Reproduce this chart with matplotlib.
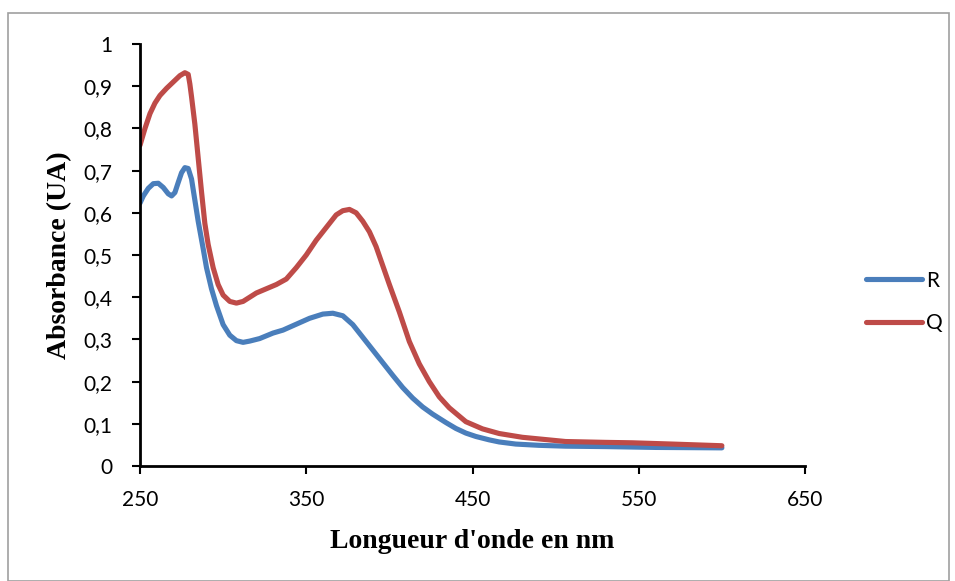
import matplotlib
matplotlib.use("Agg")
from matplotlib import pyplot as plt
from matplotlib.patches import Rectangle

# absorbance spectra
r_nm = [250, 252, 255, 258, 261, 264, 267, 269, 271, 273, 275, 277, 279, 281, 283,
        285, 288, 290, 293, 296, 300, 304, 308, 312, 316, 322, 330, 336, 344, 352,
        360, 366, 372, 378, 384, 390, 396, 402, 408, 414, 420, 426, 434, 440, 446,
        452, 460, 466, 476, 490, 506, 530, 560, 600]
r_abs = [0.623, 0.640, 0.658, 0.669, 0.670, 0.660, 0.645, 0.640, 0.648, 0.672, 0.695,
         0.707, 0.705, 0.680, 0.630, 0.580, 0.515, 0.470, 0.420, 0.380, 0.335, 0.310,
         0.297, 0.293, 0.296, 0.302, 0.315, 0.322, 0.336, 0.350, 0.360, 0.362, 0.356,
         0.335, 0.305, 0.275, 0.245, 0.215, 0.186, 0.161, 0.140, 0.123, 0.103, 0.089,
         0.078, 0.070, 0.062, 0.057, 0.052, 0.049, 0.047, 0.046, 0.044, 0.043]

q_nm = [250, 253, 256, 259, 262, 266, 270, 274, 277, 279, 280, 281, 283, 285, 287,
        289, 291, 294, 297, 300, 304, 308, 312, 316, 320, 326, 332, 338, 344, 350,
        356, 362, 368, 372, 376, 380, 384, 388, 392, 396, 400, 406, 412, 418, 424,
        430, 436, 446, 456, 466, 480, 506, 530, 546, 570, 600]
q_abs = [0.760, 0.800, 0.835, 0.860, 0.878, 0.895, 0.910, 0.925, 0.932, 0.928, 0.905,
         0.875, 0.810, 0.730, 0.650, 0.575, 0.525, 0.470, 0.430, 0.405, 0.390, 0.386,
         0.390, 0.400, 0.410, 0.420, 0.430, 0.443, 0.470, 0.500, 0.535, 0.565, 0.595,
         0.605, 0.608, 0.600, 0.580, 0.555, 0.520, 0.475, 0.430, 0.365, 0.295, 0.242,
         0.200, 0.164, 0.138, 0.105, 0.088, 0.077, 0.068, 0.058, 0.056, 0.055, 0.052,
         0.048]

x_ticks = [250, 350, 450, 550, 650]
y_ticks = [0, 0.1, 0.2, 0.3, 0.4, 0.5, 0.6, 0.7, 0.8, 0.9, 1]
y_labels = ["0", "0,1", "0,2", "0,3", "0,4", "0,5", "0,6", "0,7", "0,8", "0,9", "1"]

fig = plt.figure(figsize=(9.55, 5.81), dpi=100)
fig.patches.append(Rectangle((8 / 955, 0), 941 / 955, 568 / 581, transform=fig.transFigure,
                             fill=False, edgecolor='#a0a0a0', lw=1.2))

ax = fig.add_axes([140 / 955, 115 / 581, 665 / 955, 422 / 581])
ax.plot(r_nm, r_abs, color='#4A7EBB', lw=3.7, label='R', solid_capstyle='round',
        solid_joinstyle='round')
ax.plot(q_nm, q_abs, color='#BE4B48', lw=3.7, label='Q', solid_capstyle='round',
        solid_joinstyle='round')

ax.set_xlim(250, 650)
ax.set_ylim(0, 1)
ax.set_xticks(x_ticks)
ax.set_xticklabels([str(v) for v in x_ticks], fontfamily='Lato', fontsize=15)
ax.set_yticks(y_ticks)
ax.set_yticklabels(y_labels, fontfamily='Lato', fontsize=15)
ax.tick_params(axis='x', direction='out', length=6, width=1.5, color='black', pad=11)
ax.tick_params(axis='y', direction='out', length=6, width=1.5, color='black', pad=14)
for s in ['top', 'right']:
    ax.spines[s].set_visible(False)
for s in ['left', 'bottom']:
    ax.spines[s].set_linewidth(2)
    ax.spines[s].set_color('black')

ax.set_xlabel("Longueur d'onde en nm", fontfamily='Liberation Serif', fontweight='bold',
              fontsize=20, labelpad=14)
ax.set_ylabel("Absorbance (UA)", fontfamily='Liberation Serif', fontweight='bold',
              fontsize=20, labelpad=8)

fig.legend(loc='center left', bbox_to_anchor=(847 / 955, 1 - 302 / 581), frameon=False,
           prop={'family': 'Lato', 'size': 15}, handlelength=2.7, handletextpad=0.2,
           labelspacing=1.1)

fig.savefig('out.png', dpi=100)
